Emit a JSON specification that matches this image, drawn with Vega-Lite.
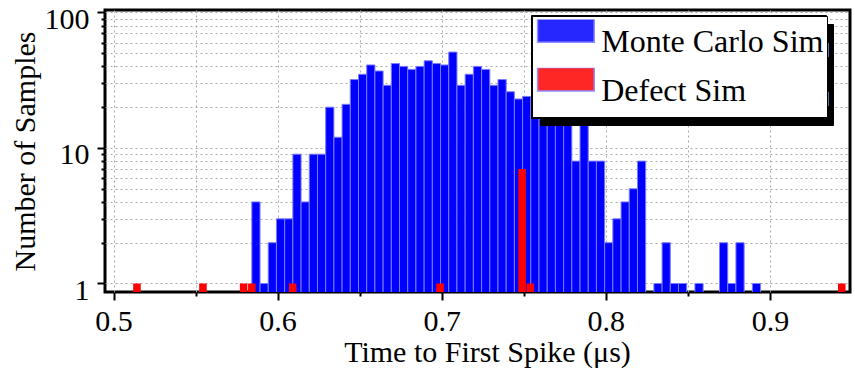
{
  "$schema": "https://vega.github.io/schema/vega-lite/v6.json",
  "width": 745,
  "height": 282,
  "autosize": "none",
  "padding": {"left": 105, "top": 10, "right": 5, "bottom": 83},
  "background": "white",
  "data": {"values": [
    {"series": "Monte Carlo Sim", "start": 0.5843, "end": 0.5893, "count": 4},
    {"series": "Monte Carlo Sim", "start": 0.5893, "end": 0.5943, "count": 1},
    {"series": "Monte Carlo Sim", "start": 0.5943, "end": 0.5993, "count": 2},
    {"series": "Monte Carlo Sim", "start": 0.5993, "end": 0.6043, "count": 3},
    {"series": "Monte Carlo Sim", "start": 0.6043, "end": 0.6093, "count": 3},
    {"series": "Monte Carlo Sim", "start": 0.6093, "end": 0.6143, "count": 9},
    {"series": "Monte Carlo Sim", "start": 0.6143, "end": 0.6193, "count": 4},
    {"series": "Monte Carlo Sim", "start": 0.6193, "end": 0.6243, "count": 9},
    {"series": "Monte Carlo Sim", "start": 0.6243, "end": 0.6293, "count": 9},
    {"series": "Monte Carlo Sim", "start": 0.6293, "end": 0.6343, "count": 20},
    {"series": "Monte Carlo Sim", "start": 0.6343, "end": 0.6393, "count": 12},
    {"series": "Monte Carlo Sim", "start": 0.6393, "end": 0.6443, "count": 21},
    {"series": "Monte Carlo Sim", "start": 0.6443, "end": 0.6493, "count": 32},
    {"series": "Monte Carlo Sim", "start": 0.6493, "end": 0.6543, "count": 35},
    {"series": "Monte Carlo Sim", "start": 0.6543, "end": 0.6593, "count": 41},
    {"series": "Monte Carlo Sim", "start": 0.6593, "end": 0.6643, "count": 37},
    {"series": "Monte Carlo Sim", "start": 0.6643, "end": 0.6693, "count": 29},
    {"series": "Monte Carlo Sim", "start": 0.6693, "end": 0.6743, "count": 42},
    {"series": "Monte Carlo Sim", "start": 0.6743, "end": 0.6793, "count": 40},
    {"series": "Monte Carlo Sim", "start": 0.6793, "end": 0.6843, "count": 38},
    {"series": "Monte Carlo Sim", "start": 0.6843, "end": 0.6893, "count": 40},
    {"series": "Monte Carlo Sim", "start": 0.6893, "end": 0.6943, "count": 44},
    {"series": "Monte Carlo Sim", "start": 0.6943, "end": 0.6993, "count": 42},
    {"series": "Monte Carlo Sim", "start": 0.6993, "end": 0.7043, "count": 41},
    {"series": "Monte Carlo Sim", "start": 0.7043, "end": 0.7093, "count": 51},
    {"series": "Monte Carlo Sim", "start": 0.7093, "end": 0.7143, "count": 29},
    {"series": "Monte Carlo Sim", "start": 0.7143, "end": 0.7193, "count": 35},
    {"series": "Monte Carlo Sim", "start": 0.7193, "end": 0.7243, "count": 40},
    {"series": "Monte Carlo Sim", "start": 0.7243, "end": 0.7293, "count": 38},
    {"series": "Monte Carlo Sim", "start": 0.7293, "end": 0.7343, "count": 29},
    {"series": "Monte Carlo Sim", "start": 0.7343, "end": 0.7393, "count": 32},
    {"series": "Monte Carlo Sim", "start": 0.7393, "end": 0.7443, "count": 26},
    {"series": "Monte Carlo Sim", "start": 0.7443, "end": 0.7493, "count": 23},
    {"series": "Monte Carlo Sim", "start": 0.7493, "end": 0.7543, "count": 24},
    {"series": "Monte Carlo Sim", "start": 0.7543, "end": 0.7593, "count": 22},
    {"series": "Monte Carlo Sim", "start": 0.7593, "end": 0.7643, "count": 20},
    {"series": "Monte Carlo Sim", "start": 0.7643, "end": 0.7693, "count": 15},
    {"series": "Monte Carlo Sim", "start": 0.7693, "end": 0.7743, "count": 15},
    {"series": "Monte Carlo Sim", "start": 0.7743, "end": 0.7793, "count": 18},
    {"series": "Monte Carlo Sim", "start": 0.7793, "end": 0.7843, "count": 8},
    {"series": "Monte Carlo Sim", "start": 0.7843, "end": 0.7893, "count": 15},
    {"series": "Monte Carlo Sim", "start": 0.7893, "end": 0.7943, "count": 8},
    {"series": "Monte Carlo Sim", "start": 0.7943, "end": 0.7993, "count": 8},
    {"series": "Monte Carlo Sim", "start": 0.7993, "end": 0.8043, "count": 2},
    {"series": "Monte Carlo Sim", "start": 0.8043, "end": 0.8093, "count": 3},
    {"series": "Monte Carlo Sim", "start": 0.8093, "end": 0.8143, "count": 4},
    {"series": "Monte Carlo Sim", "start": 0.8143, "end": 0.8193, "count": 5},
    {"series": "Monte Carlo Sim", "start": 0.8193, "end": 0.8243, "count": 8},
    {"series": "Monte Carlo Sim", "start": 0.8293, "end": 0.8343, "count": 1},
    {"series": "Monte Carlo Sim", "start": 0.8343, "end": 0.8393, "count": 2},
    {"series": "Monte Carlo Sim", "start": 0.8393, "end": 0.8443, "count": 1},
    {"series": "Monte Carlo Sim", "start": 0.8443, "end": 0.8493, "count": 1},
    {"series": "Monte Carlo Sim", "start": 0.8543, "end": 0.8593, "count": 1},
    {"series": "Monte Carlo Sim", "start": 0.8693, "end": 0.8743, "count": 2},
    {"series": "Monte Carlo Sim", "start": 0.8743, "end": 0.8793, "count": 1},
    {"series": "Monte Carlo Sim", "start": 0.8793, "end": 0.8843, "count": 2},
    {"series": "Monte Carlo Sim", "start": 0.8893, "end": 0.8943, "count": 1},
    {"series": "Defect Sim", "start": 0.5120, "end": 0.5166, "count": 1},
    {"series": "Defect Sim", "start": 0.5522, "end": 0.5568, "count": 1},
    {"series": "Defect Sim", "start": 0.5770, "end": 0.5816, "count": 1},
    {"series": "Defect Sim", "start": 0.5820, "end": 0.5866, "count": 1},
    {"series": "Defect Sim", "start": 0.6069, "end": 0.6115, "count": 1},
    {"series": "Defect Sim", "start": 0.6967, "end": 0.7013, "count": 1},
    {"series": "Defect Sim", "start": 0.7467, "end": 0.7513, "count": 7},
    {"series": "Defect Sim", "start": 0.7517, "end": 0.7563, "count": 1},
    {"series": "Defect Sim", "start": 0.9415, "end": 0.9461, "count": 1}
  ]},
  "config": {
    "view": {"stroke": "black", "strokeWidth": 3},
    "font": "Liberation Serif",
    "axis": {
      "domain": false,
      "grid": true,
      "gridColor": "#a8a8a8",
      "gridDash": [2, 3],
      "gridWidth": 1,
      "tickColor": "black",
      "tickWidth": 2,
      "labelFont": "Liberation Serif",
      "labelFontSize": 30,
      "labelColor": "black",
      "titleFont": "Liberation Serif",
      "titleFontSize": 30,
      "titleFontWeight": "normal",
      "titleColor": "black",
      "labelOverlap": false
    }
  },
  "encoding": {
    "x": {
      "field": "start", "type": "quantitative",
      "scale": {"domain": [0.49482, 0.94881], "nice": false, "zero": false},
      "axis": {
        "title": "Time to First Spike (μs)",
        "values": [0.5, 0.55, 0.6, 0.65, 0.7, 0.75, 0.8, 0.85, 0.9],
        "labelExpr": "indexof([0.5, 0.6, 0.7, 0.8, 0.9], datum.value) >= 0 ? format(datum.value, '.1f') : ''",
        "tickSize": {"condition": {"test": "indexof([0.5, 0.6, 0.7, 0.8, 0.9], datum.value) >= 0", "value": 8}, "value": 4},
        "labelPadding": 6,
        "titlePadding": 1,
        "titleX": 382
      }
    },
    "x2": {"field": "end"},
    "y": {
      "field": "count", "type": "quantitative",
      "scale": {"type": "log", "domain": [0.8655, 104.3], "nice": false},
      "axis": {
        "title": "Number of Samples",
        "values": [1, 2, 3, 4, 5, 6, 7, 8, 9, 10, 20, 30, 40, 50, 60, 70, 80, 90, 100],
        "labelExpr": "indexof([1, 10, 100], datum.value) >= 0 ? format(datum.value, 'd') : ''",
        "tickSize": {"condition": {"test": "indexof([1, 10, 100], datum.value) >= 0", "value": 8}, "value": 4},
        "labelPadding": 8,
        "labelOffset": 7,
        "titlePadding": 4
      }
    }
  },
  "layer": [
    {
      "transform": [{"filter": "datum.series == 'Monte Carlo Sim'"}],
      "mark": {"type": "rect", "clip": true, "stroke": "#7b7bff", "strokeWidth": 1},
      "encoding": {
        "y2": {"datum": 0.5},
        "color": {
          "field": "series", "type": "nominal",
          "scale": {"domain": ["Monte Carlo Sim", "Defect Sim"], "range": ["#0000ff", "#ff0000"]},
          "legend": {
            "orient": "none", "legendX": 427, "legendY": 6, "title": null,
            "fillColor": "white", "strokeColor": "black",
            "padding": 3.2, "clipHeight": 46, "rowPadding": 2.6,
            "symbolType": "M-0.91,-1.547H2.87V0.007H-0.91Z", "symbolSize": 900,
            "symbolStrokeWidth": 1.5, "symbolOpacity": 0.85,
            "labelFont": "Liberation Serif", "labelFontSize": 32, "labelColor": "black",
            "labelLimit": 400, "labelOffset": 34, "zindex": 3
          }
        }
      }
    },
    {
      "transform": [{"filter": "datum.series == 'Defect Sim'"}],
      "mark": {"type": "rect", "clip": true},
      "encoding": {
        "y2": {"datum": 0.5},
        "color": {"field": "series", "type": "nominal"}
      }
    },
    {
      "mark": {"type": "point", "opacity": 0, "filled": true, "size": 900},
      "encoding": {
        "shape": {
          "field": "series", "type": "nominal",
          "scale": {"range": ["M-1,-0.05H1V0.05H-1Z", "M-1,-0.05H1V0.05H-1Z"]},
          "legend": {
            "orient": "none", "legendX": 435, "legendY": 14, "title": null,
            "fillColor": "black", "strokeColor": "black",
            "padding": 3.2, "clipHeight": 46, "rowPadding": 2.6,
            "symbolSize": 81570, "symbolStrokeWidth": 0,
            "symbolFillColor": "black", "symbolStrokeColor": "black", "symbolOpacity": 1,
            "labelExpr": "''", "labelOffset": 0, "zindex": 1
          }
        },
        "size": {
          "field": "series", "type": "ordinal",
          "scale": {"domain": ["Defect Sim", "Monte Carlo Sim"], "range": [81570, 81570]},
          "legend": {
            "orient": "none", "legendX": 426, "legendY": 5, "title": null,
            "fillColor": "black", "strokeColor": "black",
            "padding": 4.2, "clipHeight": 46, "rowPadding": 2.6,
            "symbolType": "M-1,-0.05H1V0.05H-1Z", "symbolStrokeWidth": 0,
            "symbolFillColor": "black", "symbolStrokeColor": "black", "symbolOpacity": 1,
            "labelExpr": "''", "labelOffset": 0, "zindex": 2
          }
        }
      }
    }
  ]
}
